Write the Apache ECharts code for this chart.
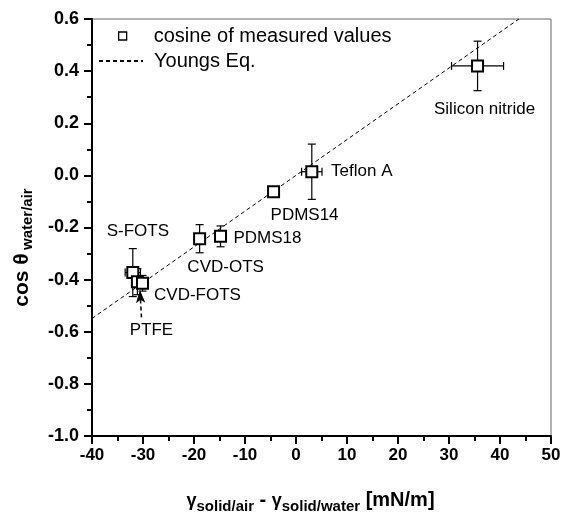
<!DOCTYPE html>
<html>
<head>
<meta charset="utf-8">
<script src="https://cdn.jsdelivr.net/npm/echarts@6/dist/echarts.min.js"></script>
<style>
  html, body { margin: 0; padding: 0; background: #fff; }
  #chart { width: 563px; height: 517px; }
</style>
</head>
<body>
<div id="chart"></div>
<script>
// Surface samples: name, surface-energy difference (mN/m), cos theta, and errors
const sampleNames = ['Silicon nitride', 'Teflon A', 'PDMS14', 'PDMS18', 'CVD-OTS', 'S-FOTS', 'PTFE', 'CVD-FOTS'];
const gammaDiff   = [35.6, 3.1, -4.4, -14.8, -18.9, -32.0, -31.1, -30.1];
const cosTheta    = [0.42, 0.014, -0.063, -0.234, -0.243, -0.373, -0.408, -0.414];
const gammaErr    = [5.1, 2.0, 1.0, 1.0, 1.0, 1.5, 1.0, 1.0];
const cosErr      = [0.095, 0.106, 0.02, 0.04, 0.054, 0.092, 0.05, 0.03];

// Young's equation line endpoints (x, cos theta)
const youngX = [-40, 43.7];
const youngY = [-0.549, 0.6];

// Pointer from the PTFE label to its point
const ptfeArrowX = [-30.3, -30.6];
const ptfeArrowY = [-0.545, -0.44];

// Axis ticks
const xTicks = { min: -40, max: 50, step: 10 };
const yTicks = { min: -1.0, max: 0.6, step: 0.2 };

// Label placement relative to each marker centre (px)
const labelShift = {
  'Silicon nitride': [7, 43],
  'Teflon A': [50, 0],
  'PDMS14': [31, 24],
  'PDMS18': [47, 2],
  'CVD-OTS': [26, 29],
  'S-FOTS': [5, -41],
  'PTFE': [14, 49],
  'CVD-FOTS': [55, 12]
};

const FONT = "'Liberation Sans', Arial, Helvetica, sans-serif";

const points = sampleNames.map((n, i) => ({
  name: n,
  value: [gammaDiff[i], cosTheta[i]],
  label: {
    show: true,
    position: 'inside',
    offset: labelShift[n],
    formatter: n,
    color: '#000',
    fontSize: 17,
    fontFamily: FONT
  }
}));

const errData = sampleNames.map((n, i) => [gammaDiff[i], cosTheta[i], gammaErr[i], cosErr[i]]);

function renderErr(params, api) {
  const x = api.value(0), y = api.value(1), ex = api.value(2), ey = api.value(3);
  const c = api.coord([x, y]);
  const top = api.coord([x, y + ey]);
  const bot = api.coord([x, y - ey]);
  const lft = api.coord([x - ex, y]);
  const rgt = api.coord([x + ex, y]);
  const cap = 4;
  const st = { stroke: '#000', lineWidth: 1.2 };
  const L = (x1, y1, x2, y2) => ({ type: 'line', shape: { x1, y1, x2, y2 }, style: st });
  return {
    type: 'group',
    children: [
      L(c[0], top[1], c[0], bot[1]),
      L(c[0] - cap, top[1], c[0] + cap, top[1]),
      L(c[0] - cap, bot[1], c[0] + cap, bot[1]),
      L(lft[0], c[1], rgt[0], c[1]),
      L(lft[0], c[1] - cap, lft[0], c[1] + cap),
      L(rgt[0], c[1] - cap, rgt[0], c[1] + cap)
    ]
  };
}

const chart = echarts.init(document.getElementById('chart'), null, { renderer: 'canvas' });

const legendText = { fontSize: 20, fontFamily: FONT, color: '#000', lineHeight: 20 };

chart.setOption({
  animation: false,
  backgroundColor: '#fff',
  textStyle: { fontFamily: FONT },
  grid: {
    left: 92, top: 19, right: 12, bottom: 81,
    outerBoundsMode: 'none',
    show: true, borderColor: '#666', borderWidth: 1, backgroundColor: 'transparent'
  },
  legend: [
    {
      left: 118, top: 26, padding: 0,
      itemWidth: 8, itemHeight: 8,
      textStyle: Object.assign({ padding: [0, 0, 0, 22] }, legendText),
      data: [
        { name: 'cosine of measured values', icon: 'rect',
          itemStyle: { color: '#fff', borderColor: '#000', borderWidth: 1.3 } }
      ]
    },
    {
      left: 98, top: 51, padding: 0,
      itemWidth: 44, itemHeight: 8,
      textStyle: Object.assign({ padding: [0, 0, 0, 6] }, legendText),
      data: [
        { name: 'Youngs Eq.', itemStyle: { color: 'rgba(0,0,0,0)', borderWidth: 0, borderColor: 'rgba(0,0,0,0)' } }
      ]
    }
  ],
  xAxis: {
    type: 'value',
    min: xTicks.min, max: xTicks.max, interval: xTicks.step,
    axisLine: { show: true, onZero: false, lineStyle: { color: '#000', width: 2 } },
    axisTick: { show: true, inside: false, length: 8, lineStyle: { color: '#000', width: 2 } },
    minorTick: { show: true, splitNumber: 2, length: 5, lineStyle: { color: '#000', width: 2 } },
    splitLine: { show: false },
    axisLabel: { color: '#000', fontSize: 17, fontWeight: 'bold', fontFamily: FONT, margin: 11 },
    name: '{g|γ}{s|solid/air}{m| - }{g|γ}{s|solid/water}{m| [mN/m]}',
    nameLocation: 'middle',
    nameGap: 54,
    nameTextStyle: {
      padding: [0, 22, 0, 0],
      rich: {
        g: { fontSize: 18, fontWeight: 'bold', fontFamily: FONT, color: '#000', verticalAlign: 'bottom' },
        s: { fontSize: 15, fontWeight: 'bold', fontFamily: FONT, color: '#000', verticalAlign: 'bottom', padding: [0, 0, -4, 0] },
        m: { fontSize: 20, fontWeight: 'bold', fontFamily: FONT, color: '#000', verticalAlign: 'bottom' }
      }
    }
  },
  yAxis: {
    type: 'value',
    min: yTicks.min, max: yTicks.max, interval: yTicks.step,
    axisLine: { show: true, onZero: false, lineStyle: { color: '#000', width: 2 } },
    axisTick: { show: true, inside: false, length: 8, lineStyle: { color: '#000', width: 2 } },
    minorTick: { show: true, splitNumber: 2, length: 5, lineStyle: { color: '#000', width: 2 } },
    splitLine: { show: false },
    axisLabel: {
      color: '#000', fontSize: 18, fontWeight: 'bold', fontFamily: FONT, margin: 13,
      formatter: v => v.toFixed(1)
    },
    name: '{m|cos θ} {s|water/air}',
    nameLocation: 'middle',
    nameRotate: 90,
    nameGap: 59,
    nameTextStyle: {
      padding: [0, 40, 0, 0],
      rich: {
        m: { fontSize: 21, fontWeight: 'bold', fontFamily: FONT, color: '#000', verticalAlign: 'bottom' },
        s: { fontSize: 15, fontWeight: 'bold', fontFamily: FONT, color: '#000', verticalAlign: 'bottom', padding: [0, 0, -2, 0] }
      }
    }
  },
  series: [
    {
      name: 'Youngs Eq.',
      type: 'line',
      symbol: 'none',
      data: youngX.map((x, i) => [x, youngY[i]]),
      lineStyle: { color: '#000', width: 1, type: [4, 3] },
      itemStyle: { color: '#000' },
      z: 1,
      markLine: {
        silent: true,
        symbol: ['none', 'arrow'],
        symbolSize: [7, 13],
        label: { show: false },
        lineStyle: { color: '#000', width: 1.5, type: [4, 3] },
        data: [[
          { coord: [ptfeArrowX[0], ptfeArrowY[0]] },
          { coord: [ptfeArrowX[1], ptfeArrowY[1]] }
        ]]
      }
    },
    {
      name: 'error',
      type: 'custom',
      renderItem: renderErr,
      data: errData,
      z: 2,
      silent: true
    },
    {
      name: 'cosine of measured values',
      type: 'scatter',
      symbol: 'rect',
      symbolSize: 11,
      data: points,
      itemStyle: { color: '#fff', borderColor: '#000', borderWidth: 2, opacity: 1 },
      z: 3
    }
  ]
});
</script>
</body>
</html>
